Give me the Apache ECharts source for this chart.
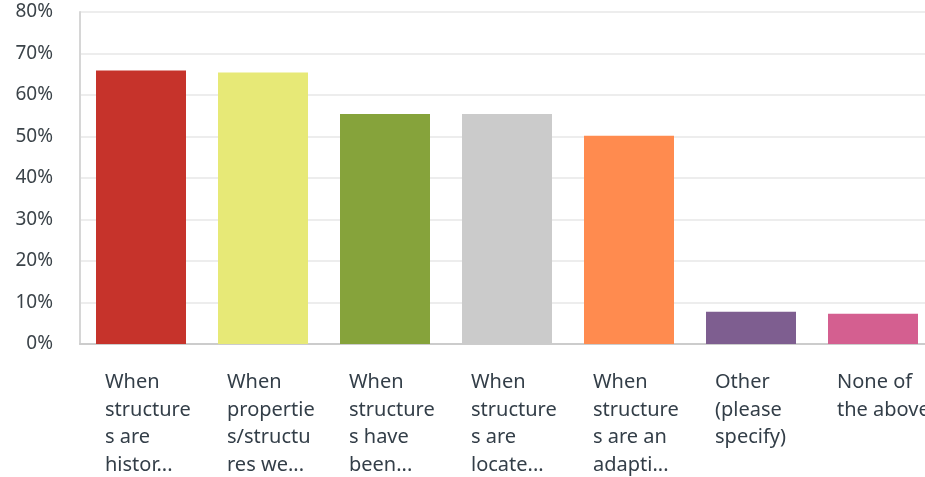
<!DOCTYPE html>
<html>
<head>
<meta charset="utf-8">
<script src="https://cdn.jsdelivr.net/npm/echarts@6/dist/echarts.min.js"></script>
<style>
  html, body { margin: 0; padding: 0; background: #fff; overflow: hidden; }
</style>
</head>
<body>
<!-- plot area runs past the right edge of the window, so the div is wider -->
<div id="chart" style="width: 945px; height: 477px"></div>
<script>
var categories = [
  'When\nstructure\ns are\nhistor...',
  'When\npropertie\ns/structu\nres we...',
  'When\nstructure\ns have\nbeen...',
  'When\nstructure\ns are\nlocate...',
  'When\nstructure\ns are an\nadapti...',
  'Other\n(please\nspecify)',
  'None of\nthe above'
]
var values = [65.9, 65.4, 55.4, 55.4, 50.2, 7.8, 7.3]
var barColors = ['#c6332b', '#e7e977', '#86a33b', '#cbcbcb', '#ff8b4f', '#7e5e90', '#d45f90']
var yTicks = [0, 10, 20, 30, 40, 50, 60, 70, 80]

var chart = echarts.init(document.getElementById('chart'))
chart.setOption({
  animation: false,
  grid: {
    left: 80,
    top: 12,
    width: 854,
    height: 332
  },
  xAxis: {
    type: 'category',
    data: categories,
    axisLine: { lineStyle: { color: '#cccccc', width: 2 } },
    axisTick: { show: false },
    axisLabel: {
      interval: 0,
      margin: 25,
      align: 'center',
      // left aligned text block, shifted a bit inside the bar
      formatter: function (v) {
        return v.split('\n').map(function (s) { return '{a|' + s + '}' }).join('\n')
      },
      rich: {
        a: {
          width: 72,
          align: 'left',
          fontSize: 20,
          lineHeight: 27.5,
          color: '#333e48',
          fontFamily: 'Noto Sans'
        }
      }
    }
  },
  yAxis: {
    type: 'value',
    min: yTicks[0],
    max: yTicks[yTicks.length - 1],
    interval: 10,
    axisLine: { show: true, lineStyle: { color: '#d6d6d6', width: 2 } },
    axisTick: { show: false },
    splitLine: { lineStyle: { color: '#ededed', width: 2 } },
    axisLabel: {
      margin: 27,
      fontSize: 19,
      padding: [5, 0, 0, 0],
      color: '#3b4349',
      fontFamily: 'Noto Sans',
      formatter: '{value}%'
    }
  },
  series: [
    {
      type: 'bar',
      barWidth: 90,
      data: values.map(function (v, i) {
        return { value: v, itemStyle: { color: barColors[i] } }
      })
    }
  ]
})
</script>
</body>
</html>
